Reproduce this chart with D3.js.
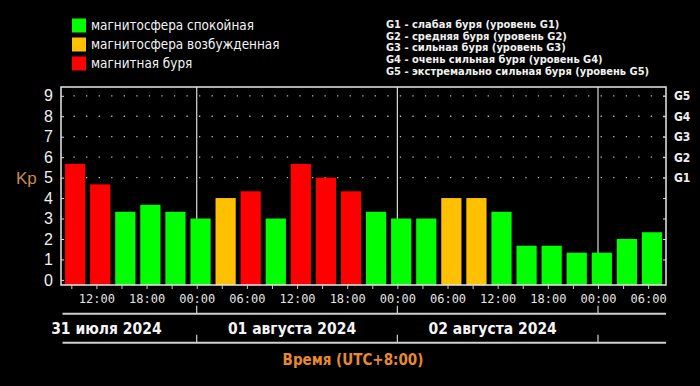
<!DOCTYPE html>
<html>
<head>
<meta charset="utf-8">
<script src="https://cdn.jsdelivr.net/npm/d3@7"></script>
<style>
  html, body { margin: 0; padding: 0; background: #000; }
  svg { display: block; }
</style>
</head>
<body>
<div id="chart"></div>
<script>
// DATA

var kpValues = [5.67, 4.67, 3.33, 3.67, 3.33, 3.0, 4.0, 4.33, 3.0, 5.67, 5.0, 4.33,
                3.33, 3.0, 3.0, 4.0, 4.0, 3.33, 1.67, 1.67, 1.33, 1.33, 2.0, 2.33]
var kpStatus = ["storm", "storm", "quiet", "quiet", "quiet", "quiet", "active", "storm",
                "quiet", "storm", "storm", "storm", "quiet", "quiet", "quiet", "active",
                "active", "quiet", "quiet", "quiet", "quiet", "quiet", "quiet", "quiet"]
var firstBar = Date.UTC(2024, 6, 31, 9)   // 3-hour intervals from here
var dayLabels = ["31 июля 2024", "01 августа 2024", "02 августа 2024"]
var dayStarts = [Date.UTC(2024, 6, 31), Date.UTC(2024, 7, 1), Date.UTC(2024, 7, 2), Date.UTC(2024, 7, 3)]
var yTicks = [0, 1, 2, 3, 4, 5, 6, 7, 8, 9]
var gLevels = ["G1", "G2", "G3", "G4", "G5"]
var gValues = [5, 6, 7, 8, 9]
var legendItems = ["магнитосфера спокойная", "магнитосфера возбужденная", "магнитная буря"]
var legendKeys = ["quiet", "active", "storm"]
var gLegend = ["G1 - слабая буря (уровень G1)",
               "G2 - средняя буря (уровень G2)",
               "G3 - сильная буря (уровень G3)",
               "G4 - очень сильная буря (уровень G4)",
               "G5 - экстремально сильная буря (уровень G5)"]

var colors = { quiet: "#00ff00", active: "#ffc000", storm: "#ff0000" }

// DIMENSIONS

var svgWidth = 700
var svgHeight = 386
var plot = { left: 61, right: 666, top: 87, bottom: 285 }

var svg = d3.select("#chart").append("svg")
    .attr("width", svgWidth)
    .attr("height", svgHeight)
    .style("background", "#000")

var times = kpValues.map((d, i) => new Date(firstBar + i * 3 * 3600e3))

var xScale = d3.scaleUtc()
    .domain([new Date(Date.UTC(2024, 6, 31, 7, 46)), new Date(Date.UTC(2024, 7, 3, 8, 8))])
    .range([plot.left, plot.right])

var yScale = d3.scaleLinear()
    .domain([-0.25, 9.43])
    .range([plot.bottom, plot.top])

// dotted grid for storm levels
svg.append("g").selectAll("line")
    .data(gValues)
    .enter()
    .append("line")
    .attr("x1", 73.5)
    .attr("x2", plot.right)
    .attr("y1", d => yScale(d))
    .attr("y2", d => yScale(d))
    .attr("stroke", "#bbb")
    .attr("stroke-width", 1.3)
    .attr("stroke-dasharray", "1.3 11.25")

// day separators
svg.append("g").selectAll("line")
    .data(dayStarts.slice(1))
    .enter()
    .append("line")
    .attr("x1", d => xScale(d))
    .attr("x2", d => xScale(d))
    .attr("y1", plot.top)
    .attr("y2", plot.bottom)
    .attr("stroke", "#ddd")
    .attr("stroke-width", 1.2)

// bars
svg.append("g").selectAll("rect")
    .data(kpValues)
    .enter()
    .append("rect")
    .attr("x", (d, i) => xScale(new Date(+times[i] - 45 * 60e3)))
    .attr("width", (d, i) => xScale(new Date(+times[i] + 100 * 60e3)) - xScale(new Date(+times[i] - 45 * 60e3)))
    .attr("y", d => yScale(d))
    .attr("height", d => yScale(-0.25) - yScale(d))
    .attr("fill", (d, i) => colors[kpStatus[i]])

// frame
svg.append("rect")
    .attr("x", plot.left)
    .attr("y", plot.top)
    .attr("width", plot.right - plot.left)
    .attr("height", plot.bottom - plot.top)
    .attr("fill", "none")
    .attr("stroke", "#e8e8e8")
    .attr("stroke-width", 1.5)

// left axis
var yAxis = d3.axisLeft(yScale).tickValues(yTicks).tickSize(-3).tickPadding(8)
var yG = svg.append("g")
    .attr("transform", `translate(${plot.left},0)`)
    .call(yAxis)
yG.select(".domain").remove()
yG.selectAll("line").attr("stroke", "#ddd")
yG.selectAll("text")
    .attr("fill", "#f0f0f0")
    .style("font-family", "'Liberation Sans', Arial, sans-serif")
    .style("font-size", "16px")

// right axis
var rAxis = d3.axisRight(yScale).tickValues(yTicks.slice(1)).tickSize(-3)
    .tickFormat(d => { var k = gValues.indexOf(d); return k >= 0 ? gLevels[k] : "" })
    .tickPadding(8)
var rG = svg.append("g")
    .attr("transform", `translate(${plot.right},0)`)
    .call(rAxis)
rG.select(".domain").remove()
rG.selectAll("line").attr("stroke", "#ddd")
rG.selectAll("text")
    .attr("fill", "#eee")
    .style("font-family", "'DejaVu Sans Condensed', 'DejaVu Sans', sans-serif")
    .style("font-weight", "bold")
    .style("font-size", "12px")

svg.append("text")
    .attr("x", 16)
    .attr("y", yScale(5))
    .attr("dy", "0.38em")
    .attr("fill", "#c98a4b")
    .style("font-family", "'Liberation Sans', Arial, sans-serif")
    .style("font-size", "17px")
    .text("Kp")

// bottom time axis
var xAxis = d3.axisBottom(xScale)
    .tickValues(times)
    .tickSize(4)
    .tickPadding(5)
    .tickFormat(d => d.getUTCHours() % 6 == 0 ? d3.utcFormat("%H:%M")(d) : "")
var xG = svg.append("g")
    .attr("transform", `translate(0,${plot.bottom})`)
    .call(xAxis)
xG.select(".domain").remove()
xG.selectAll("line").attr("stroke", "#ccc")
xG.selectAll("text")
    .attr("fill", "#e4e4e4")
    .style("font-family", "'DejaVu Sans Mono', monospace")
    .style("font-size", "12px")

// date band
var bandLines = [313.7, 342.7]
bandLines.forEach(y => {
    svg.append("line")
        .attr("x1", 62.5).attr("x2", plot.right)
        .attr("y1", y).attr("y2", y)
        .attr("stroke", "#cfcfcf")
        .attr("stroke-width", 2)
    svg.append("g").selectAll("line")
        .data(dayStarts.slice(1))
        .enter()
        .append("line")
        .attr("x1", d => xScale(d))
        .attr("x2", d => xScale(d))
        .attr("y1", y - 8)
        .attr("y2", y)
        .attr("stroke", "#cfcfcf")
        .attr("stroke-width", 1.2)
})

var dayShift = [10, -5, -5]
svg.append("g").selectAll("text")
    .data(dayLabels)
    .enter()
    .append("text")
    .attr("x", (d, i) => xScale(new Date(dayStarts[i] + 12 * 3600e3)) + dayShift[i])
    .attr("y", 328)
    .attr("dy", "0.36em")
    .attr("text-anchor", "middle")
    .attr("fill", "#f4f4f4")
    .style("font-family", "'DejaVu Sans Condensed', 'DejaVu Sans', sans-serif")
    .style("font-weight", "bold")
    .style("font-size", "15.5px")
    .text(d => d)

svg.append("text")
    .attr("x", 353)
    .attr("y", 360)
    .attr("dy", "0.36em")
    .attr("text-anchor", "middle")
    .attr("fill", "#e8892f")
    .style("font-family", "'DejaVu Sans Condensed', 'DejaVu Sans', sans-serif")
    .style("font-weight", "bold")
    .style("font-size", "15px")
    .text("Время (UTC+8:00)")

// legend
var legend = svg.append("g").selectAll("g")
    .data(legendItems)
    .enter()
    .append("g")
    .attr("transform", (d, i) => `translate(72,${18.5 + i * 19})`)
legend.append("rect")
    .attr("width", 14)
    .attr("height", 14)
    .attr("fill", (d, i) => colors[legendKeys[i]])
legend.append("text")
    .attr("x", 19)
    .attr("y", 7)
    .attr("dy", "0.36em")
    .attr("fill", "#f4f4f4")
    .style("font-family", "'DejaVu Sans Condensed', 'DejaVu Sans', sans-serif")
    .style("font-size", "13.4px")
    .text(d => d)

svg.append("g").selectAll("text")
    .data(gLegend)
    .enter()
    .append("text")
    .attr("x", 386)
    .attr("y", (d, i) => 24 + i * 11.7)
    .attr("dy", "0.36em")
    .attr("fill", "#f0f0f0")
    .style("font-family", "'DejaVu Sans Condensed', 'DejaVu Sans', sans-serif")
    .style("font-weight", "bold")
    .style("font-size", "11px")
    .text(d => d)
</script>
</body>
</html>
